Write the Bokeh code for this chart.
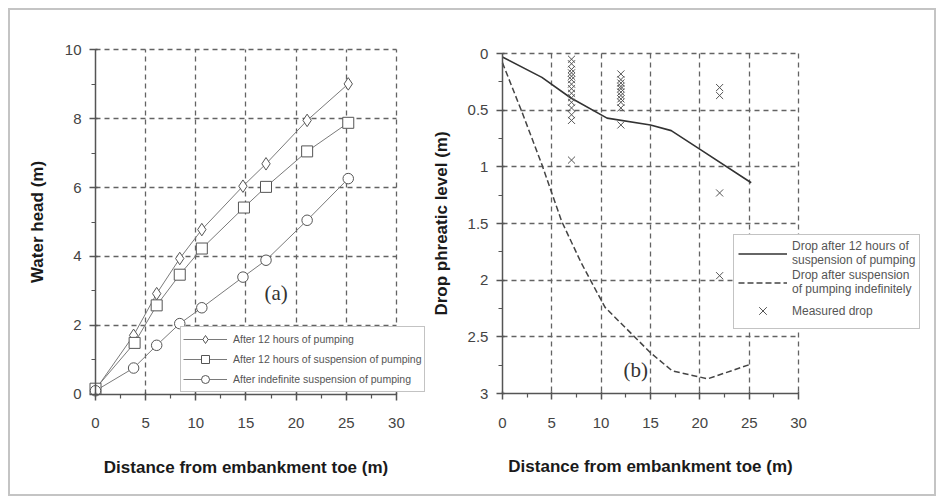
from bokeh.plotting import figure
from bokeh.models import Range1d, FixedTicker, Legend, LegendItem, Label
from bokeh.layouts import row
from bokeh.embed import file_html
from bokeh.resources import INLINE

# ---------------- data: panel (a) ----------------
dist_a = [0, 3.8, 6.1, 8.4, 10.6, 14.7, 17.0, 21.1, 25.2]
head_pumping = [0.13, 1.71, 2.92, 3.94, 4.78, 6.04, 6.69, 7.95, 9.01]
dist_sq = [0, 3.9, 6.1, 8.4, 10.6, 14.8, 17.0, 21.1, 25.2]
head_susp12 = [0.16, 1.49, 2.58, 3.47, 4.23, 5.42, 6.02, 7.05, 7.88]
head_indef = [0.10, 0.76, 1.42, 2.05, 2.51, 3.40, 3.89, 5.05, 6.26]

x_ticks = [0, 5, 10, 15, 20, 25, 30]
x_minor = [2.5, 7.5, 12.5, 17.5, 22.5, 27.5]
ya_ticks = [0, 2, 4, 6, 8, 10]
ya_minor = [1, 3, 5, 7, 9]

# ---------------- data: panel (b) ----------------
dist_b_12h = [0, 4.0, 6.9, 10.6, 15.0, 17.1, 20.1, 25.2]
drop_12h = [0.03, 0.21, 0.39, 0.57, 0.63, 0.68, 0.85, 1.14]
dist_b_indef = [0, 2, 4, 6, 8, 10.4, 15.0, 17.2, 20.8, 25.2]
drop_indef = [0.08, 0.52, 0.98, 1.48, 1.85, 2.24, 2.64, 2.80, 2.87, 2.74]

station_dist = [7, 12, 22]
measured_drops = [
    [0.05, 0.09, 0.14, 0.17, 0.20, 0.23, 0.27, 0.31, 0.35, 0.39, 0.43, 0.48, 0.54, 0.59, 0.94],
    [0.18, 0.23, 0.26, 0.29, 0.31, 0.34, 0.37, 0.40, 0.43, 0.48, 0.63],
    [0.30, 0.37, 1.23, 1.96],
]
yb_ticks = [0, 0.5, 1, 1.5, 2, 2.5, 3]
yb_minor = [0.25, 0.75, 1.25, 1.75, 2.25, 2.75]

FONT = "Liberation Sans"
GRID_C = "#636363"
AX_C = "#555555"


def style(p, xlab, ylab, xfix, yfix, xb, yb, yt, ym, xgrid_t, ygrid_t, ystand):
    xa = p.xaxis[0]
    ya = p.yaxis[0]
    xa.ticker = FixedTicker(ticks=x_ticks, minor_ticks=x_minor)
    ya.ticker = FixedTicker(ticks=yt, minor_ticks=ym)
    xa.fixed_location = xfix
    ya.fixed_location = yfix
    xa.bounds = xb
    ya.bounds = yb
    xa.axis_label = xlab
    ya.axis_label = ylab
    for a in (xa, ya):
        a.axis_label_text_font = FONT
        a.axis_label_text_font_style = "bold"
        a.axis_label_text_font_size = "17px"
        a.axis_label_text_color = "#1a1a1a"
        a.major_label_text_font = FONT
        a.major_label_text_font_size = "15px"
        a.major_label_text_color = "#444444"
        a.axis_line_color = AX_C
        a.axis_line_width = 1.5
        a.major_tick_line_color = AX_C
        a.major_tick_line_width = 1.5
        a.minor_tick_line_color = AX_C
        a.minor_tick_line_width = 1.2
        a.major_tick_in = 2
        a.major_tick_out = 6
        a.minor_tick_in = 0
        a.minor_tick_out = 4
    xa.major_label_standoff = 18
    xa.axis_label_standoff = 26
    ya.major_label_standoff = 8
    ya.axis_label_standoff = ystand
    p.xgrid[0].ticker = FixedTicker(ticks=xgrid_t)
    p.ygrid[0].ticker = FixedTicker(ticks=ygrid_t)
    p.xgrid[0].cross_bounds = yb
    p.ygrid[0].cross_bounds = xb
    for g in (p.xgrid[0], p.ygrid[0]):
        g.grid_line_color = GRID_C
        g.grid_line_dash = "5 4"
        g.grid_line_width = 1.3


common = dict(output_backend="svg", toolbar_location=None, min_border=0,
              min_border_left=0, min_border_right=0, min_border_top=0, min_border_bottom=0,
              background_fill_color="white", border_fill_color="white", outline_line_color=None)

# ---------------- panel (a) ----------------
p1 = figure(width=420, height=484,
            x_range=Range1d(-8.475, 33.40), y_range=Range1d(-2.912, 11.141), **common)
style(p1, "Distance from embankment toe (m)", "Water head (m)", 0, 0, (0, 30), (0, 10),
      ya_ticks, ya_minor, x_ticks[1:], ya_ticks[1:], 15)

LC = "#7a7a7a"
MC = "#555555"
l1 = p1.line(dist_a, head_pumping, line_color=LC, line_width=1)
l2 = p1.line(dist_sq, head_susp12, line_color=LC, line_width=1)
l3 = p1.line(dist_a, head_indef, line_color=LC, line_width=1)
m1 = p1.scatter(dist_a, head_pumping, marker="diamond", size=12.5,
                line_color=MC, fill_color="white", line_width=1)
m2 = p1.scatter(dist_sq, head_susp12, marker="square", size=11,
                line_color=MC, fill_color="white", line_width=1)
m3 = p1.scatter(dist_a, head_indef, marker="circle", size=10.5,
                line_color=MC, fill_color="white", line_width=1)

leg1 = Legend(items=[
    LegendItem(label="After 12 hours of pumping", renderers=[l1, m1]),
    LegendItem(label="After 12 hours of suspension of pumping", renderers=[l2, m2]),
    LegendItem(label="After indefinite suspension of pumping", renderers=[l3, m3]),
], location=(170, 102), glyph_width=44, glyph_height=20, label_height=17, spacing=0,
    padding=2, margin=0, label_standoff=6, label_text_font=FONT,
    label_text_font_size="10.5px", label_text_color="#555555",
    border_line_color="#888888", border_line_width=1.5, background_fill_alpha=1)
p1.add_layout(leg1, "center")
p1.add_layout(Label(x=18.0, y=2.93, text="(a)", text_font="Liberation Serif",
                    text_font_size="21px", text_align="center", text_baseline="middle",
                    text_color="#333333"))

# ---------------- panel (b) ----------------
p2 = figure(width=504, height=484,
            x_range=Range1d(-7.283, 43.765), y_range=Range1d(3.891, -0.380), **common)
style(p2, "Distance from embankment toe (m)", "Drop phreatic level (m)", 3, 0, (0, 30), (0, 3),
      yb_ticks, yb_minor, x_ticks[1:], yb_ticks[:-1], 14)

s1 = p2.line(dist_b_12h, drop_12h, line_color="#333333", line_width=1.6)
s2 = p2.line(dist_b_indef, drop_indef, line_color="#444444", line_width=1.5, line_dash="6 3")
mx = []
my = []
for d, drops in zip(station_dist, measured_drops):
    for v in drops:
        mx.append(d)
        my.append(v)
s3 = p2.scatter(mx, my, marker="x", size=10, line_color="#555555", line_width=1)

leg2 = Legend(items=[
    LegendItem(label="Drop after 12 hours of\nsuspension of pumping", renderers=[s1]),
    LegendItem(label="Drop after suspension\nof pumping indefinitely", renderers=[s2]),
    LegendItem(label="Measured drop", renderers=[s3]),
], location=(303, 165), glyph_width=49, glyph_height=27, label_height=15, spacing=1,
    padding=4, margin=0, label_standoff=5, label_text_font=FONT,
    label_text_font_size="12px", label_text_color="#555555",
    border_line_color="#888888", border_line_width=1.5, background_fill_alpha=1)
p2.add_layout(leg2, "center")
p2.add_layout(Label(x=13.5, y=2.79, text="(b)", text_font="Liberation Serif",
                    text_font_size="21px", text_align="center", text_baseline="middle",
                    text_color="#333333"))

layout = row(p1, p2, margin=(8, 0, 0, 8))
layout.styles = {"border": "2px solid #c4c4c4"}

open("out.html", "w").write(file_html(layout, INLINE))
